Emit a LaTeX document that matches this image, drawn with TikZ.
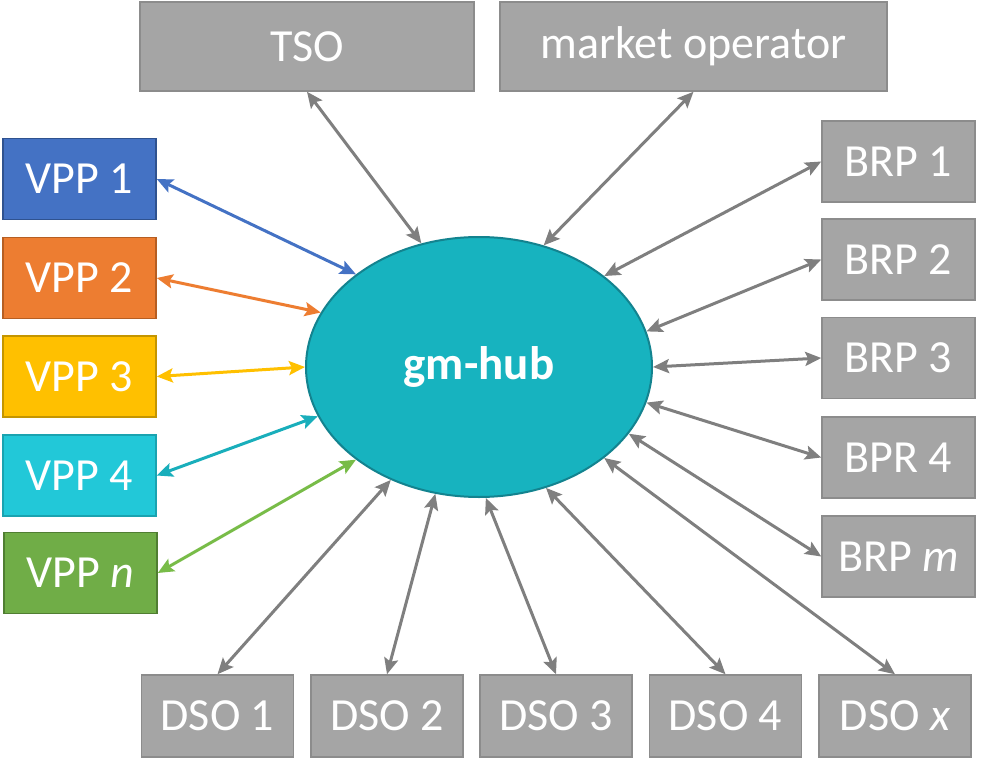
\documentclass[tikz,border=0pt]{standalone}
\usepackage{fontspec}
\setmainfont{Carlito}
\usetikzlibrary{arrows.meta,shapes.geometric}
\definecolor{boxfill}{HTML}{A5A5A5}
\definecolor{boxline}{HTML}{8C8C8C}
\definecolor{arrowgray}{HTML}{7F7F7F}
\definecolor{hubfill}{HTML}{17B3BF}
\definecolor{hubline}{HTML}{13838F}
\definecolor{vppblue}{HTML}{4472C4}
\definecolor{vppblueline}{HTML}{2F528F}
\definecolor{vpporange}{HTML}{ED7D31}
\definecolor{vpporangeline}{HTML}{B65E22}
\definecolor{vppyellow}{HTML}{FFC000}
\definecolor{vppyellowline}{HTML}{C49500}
\definecolor{vppcyan}{HTML}{22C8D8}
\definecolor{vppcyanline}{HTML}{1AA3B0}
\definecolor{vppcyanarrow}{HTML}{19AEBB}
\definecolor{vppgreen}{HTML}{70AD47}
\definecolor{vppgreenline}{HTML}{507E32}
\definecolor{vppgreenarrow}{HTML}{78BC48}
\begin{document}
\begin{tikzpicture}[x=1pt,y=-1pt,
  basebox/.style={line width=1.5pt, text=white, inner sep=0pt,
    font=\fontsize{46}{50}\selectfont},
  graybox/.style={basebox, draw=boxline, fill=boxfill},
  sidebox/.style={minimum width=153pt, minimum height=81pt},
  vppbox/.style={basebox, sidebox, draw=#1line, fill=#1},
  link/.style={line width=3pt, draw=#1,
    {Stealth[length=16pt,width=14pt,inset=3pt]}-{Stealth[length=16pt,width=14pt,inset=3pt]}},
  link/.default=arrowgray]
\useasboundingbox (0,0) rectangle (989,763);

% hub
\node[ellipse, draw=hubline, fill=hubfill, line width=2pt, minimum width=346pt,
  minimum height=260pt, inner sep=0pt, text=white,
  font=\fontsize{47}{50}\selectfont\bfseries] (hub) at (479,367) {gm-hub};

% top
\node[graybox, minimum width=334pt, minimum height=89pt] (tso) at (307,46.5) {TSO};
\node[graybox, minimum width=387pt, minimum height=89pt] (mo) at (693.5,46.5) {market operator};

% VPP
\node[vppbox=vppblue]   (vpp1) at (79.5,179)   {VPP 1};
\node[vppbox=vpporange] (vpp2) at (79.5,278)   {VPP 2};
\node[vppbox=vppyellow] (vpp3) at (79.5,376.5) {VPP 3};
\node[vppbox=vppcyan]   (vpp4) at (79.5,475.5) {VPP 4};
\node[vppbox=vppgreen]  (vppn) at (80.5,573)   {VPP \textit{n}};

% BRP
\node[graybox, sidebox] (brp1) at (898.5,161.5) {BRP 1};
\node[graybox, sidebox] (brp2) at (898.5,259.5) {BRP 2};
\node[graybox, sidebox] (brp3) at (898.5,358)   {BRP 3};
\node[graybox, sidebox] (brp4) at (898.5,457.5) {BPR 4};
\node[graybox, sidebox] (brpm) at (898.5,556.5) {BRP \textit{m}};

% DSO
\node[graybox, minimum width=152pt, minimum height=82pt] (dso1) at (217.5,716) {DSO 1};
\node[graybox, minimum width=152pt, minimum height=82pt] (dso2) at (387,716)   {DSO 2};
\node[graybox, minimum width=152pt, minimum height=82pt] (dso3) at (556,716)   {DSO 3};
\node[graybox, minimum width=152pt, minimum height=82pt] (dso4) at (725.5,716) {DSO 4};
\node[graybox, minimum width=152pt, minimum height=82pt] (dsox) at (895,716)   {DSO \textit{x}};

% connectors
\draw[link] (tso.south) -- (hub.115.7);
\draw[link] (mo.south) -- (hub.62.9);

\draw[link=vppblue]       (vpp1.east) -- (hub.143);
\draw[link=vpporange]     (vpp2.east) -- (hub.161.5);
\draw[link=vppyellow]     (vpp3.east) -- (hub.180);
\draw[link=vppcyanarrow]  (vpp4.east) -- (hub.197.8);
\draw[link=vppgreenarrow] (vppn.east) -- (hub.217.3);

\draw[link] (brp1.west) -- (hub.36.3);
\draw[link] (brp2.west) -- (hub.12.1);
\draw[link] (brp3.west) -- (hub.0);
\draw[link] (brp4.west) -- (hub.-12.7);
\draw[link] (brpm.west) -- (hub.-24.9);

\draw[link] (dso1.north) -- (hub.-128.7);
\draw[link] (dso2.north) -- (hub.-109.5);
\draw[link] (dso3.north) -- (hub.-87.4);
\draw[link] (dso4.north) -- (hub.-61.1);
\draw[link] (dsox.north) -- (hub.-36.4);
\end{tikzpicture}
\end{document}
